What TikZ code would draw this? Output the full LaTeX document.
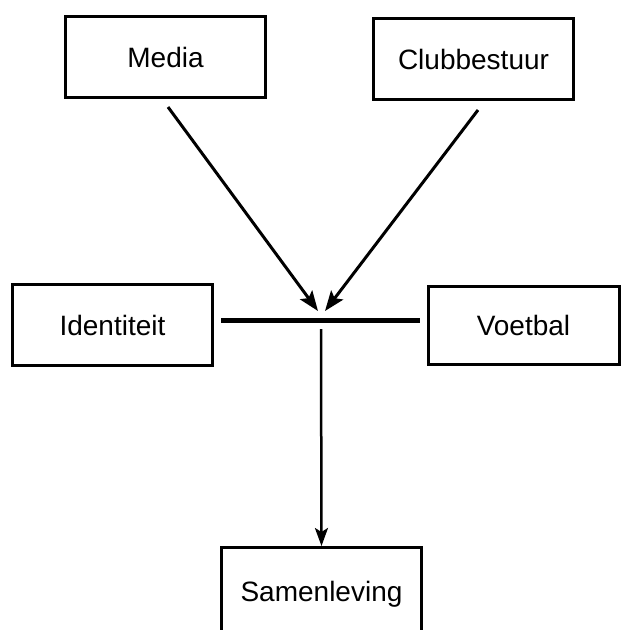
\documentclass[tikz,border=0pt]{standalone}
\usepackage{fontspec}
\setmainfont{Liberation Sans}
\usetikzlibrary{arrows.meta}
\begin{document}
\begin{tikzpicture}[x=1pt,y=-1pt,
  box/.style={draw,line width=3pt,minimum width=200pt,minimum height=81pt,inner sep=0pt,font=\fontsize{28}{30}\selectfont},
  conn/.style={line width=3pt,-{Stealth[length=20pt,width=15pt,inset=4pt]}}]
\useasboundingbox (0,0) rectangle (622,630);
\node[box] (media) at (165.5,57) {Media};
\node[box] (club) at (473.5,59) {Clubbestuur};
\node[box] (ident) at (112.5,325) {Identiteit};
\node[box,minimum width=191pt,minimum height=78pt] (voet) at (523.5,325) {Voetbal};
\node[box,anchor=north,minimum height=90pt] (samen) at (321.5,546) {};
\node[font=\fontsize{28}{30}\selectfont] (samentxt) at (321.5,594) {Samenleving};
\coordinate (barL) at (221,320);
\coordinate (barR) at (420,320);
\coordinate (m0) at (168,107);
\coordinate (m1) at (318,311);
\coordinate (c0) at (478,110);
\coordinate (c1) at (325,311);
\coordinate (v0) at (321,329);
\draw[line width=5pt] (barL) -- (barR);
\draw[conn] (m0) -- (m1);
\draw[conn] (c0) -- (c1);
\draw[line width=2.5pt,-{Stealth[length=18pt,width=13pt,inset=4pt]}] (v0) -- (samen.north);
\end{tikzpicture}
\end{document}
